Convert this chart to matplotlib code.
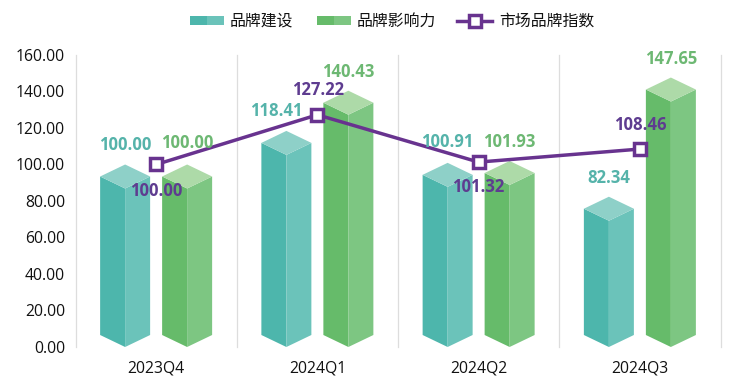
import matplotlib
matplotlib.use("Agg")
import matplotlib.pyplot as plt
from matplotlib.patches import Polygon, Rectangle
from matplotlib.lines import Line2D

plt.rcParams["font.family"] = ["Open Sans", "Noto Sans CJK SC", "DejaVu Sans"]

quarters = ["2023Q4", "2024Q1", "2024Q2", "2024Q3"]
brand_build = [100.00, 118.41, 100.91, 82.34]
brand_influence = [100.00, 140.43, 101.93, 147.65]
market_index = [100.00, 127.22, 101.32, 108.46]
y_ticks = [0, 20, 40, 60, 80, 100, 120, 140, 160]

TEAL = ("#4DB6AC", "#6BC3BA", "#8ED0C8")
GREEN = ("#66BB6A", "#7DC682", "#ADDAA8")
PURPLE = "#68338F"

# label offsets in px from the bar top / marker
build_off = [(0, 19), (-10, 20), (0, 21), (0, 19)]
influence_off = [(0, 21), (0, 19), (0, 19), (0, 19)]
index_off = [(0, -27), (1, 25), (0, -25), (0, 24)]

fig = plt.figure(figsize=(7.45, 3.90), dpi=100)
ax = fig.add_axes([75.5 / 745, 1 - 347 / 390, 645 / 745, 292 / 390])
ax.set_xlim(0, 4)
ax.set_ylim(0, 160)

HALF_W = 25 / 161.25      # half bar width, category units
RISE = 12 / 1.825         # depth of the top diamond, value units
OFFSET = 31 / 161.25


def bar3d(xc, val, colors):
    top_c = val - RISE
    top_f = val - 2 * RISE
    # left face, right face, top diamond
    ax.add_patch(Polygon([(xc - HALF_W, RISE), (xc, 0), (xc, top_f), (xc - HALF_W, top_c)],
                         fc=colors[0], lw=0, zorder=2))
    ax.add_patch(Polygon([(xc, 0), (xc + HALF_W, RISE), (xc + HALF_W, top_c), (xc, top_f)],
                         fc=colors[1], lw=0, zorder=2))
    ax.add_patch(Polygon([(xc - HALF_W, top_c), (xc, val), (xc + HALF_W, top_c), (xc, top_f)],
                         fc=colors[2], lw=0, zorder=2))


def label(x, y, off, color):
    ax.annotate(f"{y:.2f}", (x, y), xytext=(off[0] * 0.72, off[1] * 0.72),
                textcoords="offset points", ha="center", va="center",
                color=color, fontsize=12, fontweight="bold", zorder=6)


for i in range(len(quarters)):
    xc = i + 0.5
    bar3d(xc - OFFSET, brand_build[i], TEAL)
    bar3d(xc + OFFSET, brand_influence[i], GREEN)
    label(xc - OFFSET, brand_build[i], build_off[i], "#55B3AA")
    label(xc + OFFSET, brand_influence[i], influence_off[i], "#6DB873")
    label(xc, market_index[i], index_off[i], "#5E3C90")

xs = [i + 0.5 for i in range(len(quarters))]
ax.plot(xs, market_index, color=PURPLE, lw=2.5, marker="s", ms=8, mfc="white",
        mec=PURPLE, mew=2.5, zorder=5, solid_capstyle="round")

ax.set_xticks(xs)
ax.set_xticklabels(quarters, fontsize=11.3, color="#111111")
ax.set_yticks(y_ticks)
ax.set_yticklabels([f"{v:.2f}" for v in y_ticks], fontsize=11.3, color="#111111")
ax.tick_params(length=0, axis="both")
ax.tick_params(axis="x", pad=10)
ax.tick_params(axis="y", pad=7.5)
for s in ax.spines.values():
    s.set_visible(False)
for i in range(len(quarters) + 1):
    ax.axvline(i, color="#DDDDDD", lw=0.9, zorder=1, clip_on=False)


# legend, drawn by hand because of the two-tone swatches
def swatch(x, colors, text):
    fig.add_artist(Rectangle((x / 745, 1 - 25 / 390), 17 / 745, 9 / 390, fc=colors[0], lw=0))
    fig.add_artist(Rectangle(((x + 17) / 745, 1 - 25 / 390), 17 / 745, 9 / 390, fc=colors[1], lw=0))
    fig.text((x + 40) / 745, 1 - 21.5 / 390, text, fontsize=11.4, va="center", color="#111111")


swatch(190, TEAL, "品牌建设")
swatch(317, GREEN, "品牌影响力")
fig.add_artist(Line2D([457 / 745, 492 / 745], [1 - 21 / 390] * 2, color=PURPLE, lw=2.5))
fig.add_artist(Line2D([474.5 / 745], [1 - 21 / 390], marker="s", ms=8, mfc="white",
                      mec=PURPLE, mew=2.5))
fig.text(499 / 745, 1 - 21.5 / 390, "市场品牌指数", fontsize=11.4, va="center", color="#111111")

fig.savefig("out.png", dpi=100)
